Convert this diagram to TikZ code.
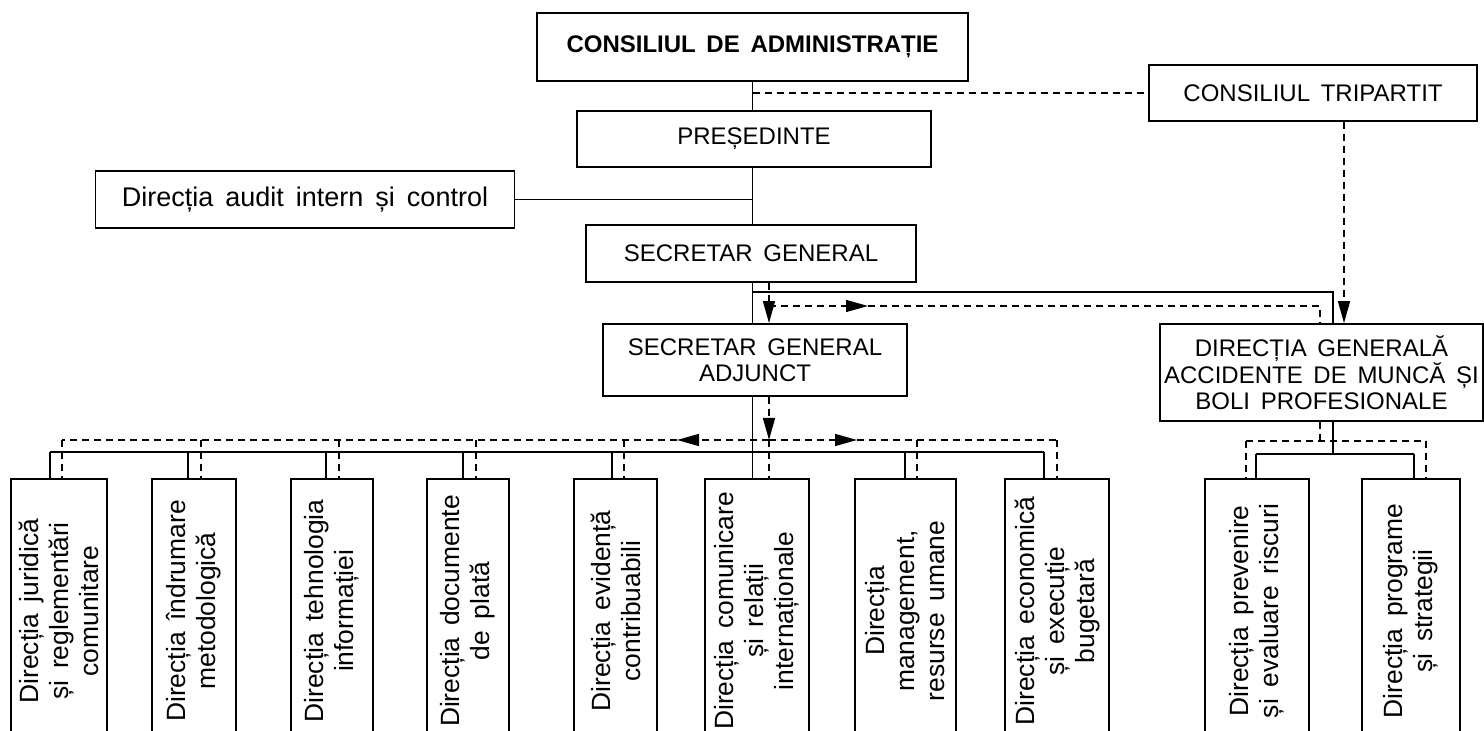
\documentclass[tikz,border=0pt]{standalone}
\usepackage{fontspec}
\setmainfont{Liberation Sans}[WordSpace=1.6]
\usetikzlibrary{arrows.meta,positioning}

\begin{document}
\begin{tikzpicture}[x=0.5pt,y=-0.5pt,
		box/.style={draw,line width=0.9pt,fill=white,inner sep=2pt,align=center,
			font=\fontsize{12}{12.8}\selectfont},
		dir/.style={box,rotate=90,minimum width=132pt,
			font=\fontsize{13.2}{15}\selectfont},
		link/.style={line width=0.7pt},
		dlink/.style={line width=0.7pt,dash pattern=on 3.5pt off 2.5pt},
		arr/.style={-{Triangle[length=11pt,width=6pt]}}]
	\useasboundingbox (0,0) rectangle (1484,731);
	% Top level
	\node[box,minimum width=215.5pt,minimum height=34pt] (ca) at (752.5,47) {\textbf{CONSILIUL DE ADMINISTRAȚIE}};
	\node[box,minimum width=164pt,minimum height=28pt] (ct) at (1313,93) {CONSILIUL TRIPARTIT};
	\node[box,minimum width=177pt,minimum height=28pt] (pres) at (754,139) {PREȘEDINTE};
	\node[box,minimum width=209.5pt,minimum height=28.5pt,font=\fontsize{13.5}{15}\selectfont] (audit) at (305,199.5) {Direcția audit intern și control};
	\node[box,minimum width=165pt,minimum height=28.5pt] (sg) at (751,253.5) {SECRETAR GENERAL};
	\node[box,minimum width=152pt,minimum height=36pt] (sga) at (755,360) {SECRETAR GENERAL\\ADJUNCT};
	\node[box,minimum width=161.5pt,minimum height=48.5pt] (dg) at (1321.5,372.5) {DIRECȚIA GENERALĂ\\ACCIDENTE DE MUNCĂ ȘI\\BOLI PROFESIONALE};
	% Directions
	\node[dir,minimum height=48pt] (d1) at (59,611) {Direcția juridică\\și reglementări\\comunitare};
	\node[dir,minimum height=42pt] (d2) at (194,611) {Direcția îndrumare\\metodologică};
	\node[dir,minimum height=41pt] (d3) at (332,611) {Direcția tehnologia\\informației};
	\node[dir,minimum height=41pt] (d4) at (468,611) {Direcția documente\\de plată};
	\node[dir,minimum height=41.5pt] (d5) at (615.5,611) {Direcția evidență\\contribuabili};
	\node[dir,minimum height=52pt] (d6) at (757,611) {Direcția comunicare\\și relații\\internaționale};
	\node[dir,minimum height=50.5pt] (d7) at (905.5,611) {Direcția\\management,\\resurse umane};
	\node[dir,minimum height=52pt] (d8) at (1057,611) {Direcția economică\\și execuție\\bugetară};
	\node[dir,minimum height=52pt] (p1) at (1257,611) {Direcția prevenire\\și evaluare riscuri};
	\node[dir,minimum height=49pt] (p2) at (1411,611) {Direcția programe\\și strategii};
	% Spine
	\draw[link] (ca.south) -- (ca.south |- pres.north);
	\draw[link] (ca.south |- pres.south) -- (ca.south |- sg.north);
	\draw[link] (ca.south |- sg.south) -- (ca.south |- sga.north);
	\draw[link] (ca.south |- sga.south) -- (ca.south |- 0,452);
	\draw[link] (audit.east) -- (audit.east -| ca.south);
	\draw[dlink] (ca.south |- ct.west) -- (ct.west);
	% Secretar general -> DG
	\draw[link] (ca.south |- 0,292) -| (dg.north -| 1333,0);
	\draw[dlink,arr] (sg.south -| 769,0) -- (sga.north -| 769,0);
	\draw[dlink,arr] (769,306) -- (868,306);
	\draw[dlink] (868,306) -| (dg.north -| 1320,0);
	\draw[dlink,arr] (ct.south -| 1344,0) -- (dg.north -| 1344,0);
	% Secretar general adjunct -> directions (rotated boxes: east is the top)
	\draw[link] (50,452) -- (1044,452);
	\foreach \n/\x in {d1/50,d2/188,d3/326,d4/463,d5/612,d6/752.5,d7/905,d8/1044}
		\draw[link] (\x,452) -- (\n.east -| \x,0);
	\draw[dlink,arr] (sga.south -| 769,0) -- (769,440);
	\draw[dlink,arr] (769,440) -- (677,440);
	\draw[dlink,arr] (769,440) -- (857,440);
	\draw[dlink] (677,440) -- (62,440);
	\draw[dlink] (857,440) -- (1057,440);
	\foreach \n/\x in {d1/62,d2/201,d3/339,d4/476,d5/624,d6/769,d7/917,d8/1057}
		\draw[dlink] (\x,440) -- (\n.east -| \x,0);
	% DG -> directions
	\draw[link] (dg.south -| 1333,0) -- (1333,454);
	\draw[link] (1256,454) -- (1414,454);
	\draw[dlink] (dg.south -| 1320,0) -- (1320,441);
	\draw[dlink] (1246,441) -- (1426,441);
	\foreach \n/\x in {p1/1256,p2/1414}
		\draw[link] (\x,454) -- (\n.east -| \x,0);
	\foreach \n/\x in {p1/1246,p2/1426}
		\draw[dlink] (\x,441) -- (\n.east -| \x,0);
\end{tikzpicture}
\end{document}
